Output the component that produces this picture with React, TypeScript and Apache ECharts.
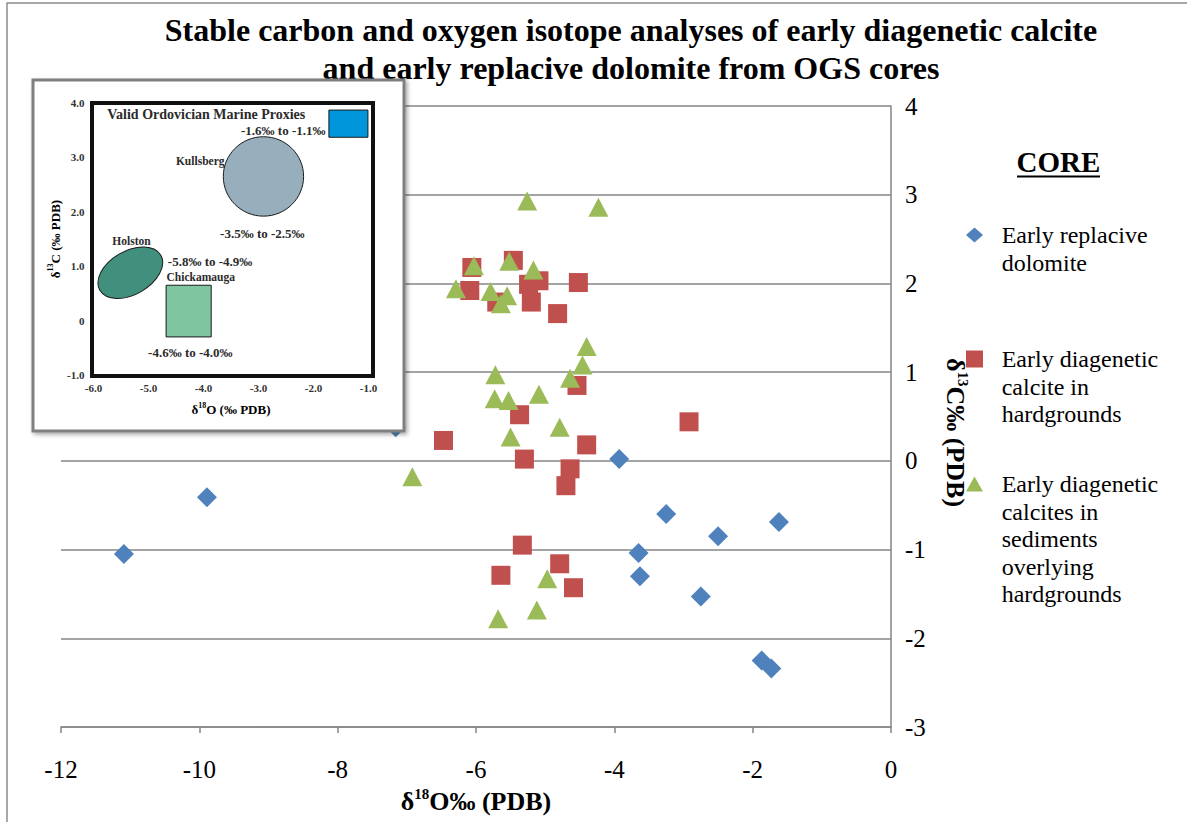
import React, { useEffect, useRef } from "react";
import * as echarts from "echarts";

const FONT = "'Liberation Serif', 'Times New Roman', Times, serif";

// ---- main chart data: [δ18O, δ13C] ----
const dolomite: [number, number][] = [
  [-11.09, -1.05], [-9.89, -0.41], [-7.16, 0.38], [-3.93, 0.02], [-3.25, -0.6],
  [-1.62, -0.69], [-2.5, -0.85], [-3.65, -1.04], [-3.63, -1.3], [-2.75, -1.53],
  [-1.87, -2.25], [-1.73, -2.34],
];
const hardgroundCalcite: [number, number][] = [
  [-6.06, 2.18], [-6.09, 1.92], [-5.46, 2.26], [-5.24, 1.99], [-5.09, 2.03],
  [-5.7, 1.79], [-5.2, 1.79], [-4.52, 2.01], [-4.82, 1.66], [-4.54, 0.85],
  [-5.37, 0.52], [-2.92, 0.44], [-6.47, 0.23], [-4.4, 0.18], [-5.3, 0.02],
  [-4.64, -0.09], [-4.7, -0.28], [-5.33, -0.95], [-4.79, -1.16], [-5.64, -1.29],
  [-4.59, -1.43],
];
const overlyingCalcite: [number, number][] = [
  [-5.26, 2.93], [-4.23, 2.86], [-6.03, 2.2], [-5.52, 2.25], [-5.17, 2.15],
  [-6.29, 1.94], [-5.79, 1.91], [-5.55, 1.86], [-5.64, 1.77], [-4.4, 1.29],
  [-4.46, 1.08], [-4.64, 0.93], [-5.72, 0.97], [-5.73, 0.7], [-5.53, 0.68],
  [-5.09, 0.75], [-4.79, 0.38], [-5.5, 0.27], [-6.92, -0.18], [-4.97, -1.33],
  [-5.12, -1.68], [-5.68, -1.78],
];

const seriesNames = [
  "Early replacive dolomite",
  "Early diagenetic calcite in hardgrounds",
  "Early diagenetic calcites in sediments overlying hardgrounds",
];
const legendLines = [
  ["Early replacive", "dolomite"],
  ["Early diagenetic", "calcite in", "hardgrounds"],
  ["Early diagenetic", "calcites in", "sediments", "overlying", "hardgrounds"],
];
const seriesColors = ["#4F81BD", "#C0504D", "#9BBB59"];
const seriesSymbols = ["diamond", "rect", "triangle"];

const titleLines = [
  "Stable carbon and oxygen isotope analyses of early diagenetic calcite",
  "and early replacive dolomite from OGS cores",
];

// main axes
const xMin = -12, xMax = 0, xStep = 2;
const yMin = -3, yMax = 4, yStep = 1;

// ---- inset (Valid Ordovician Marine Proxies) ----
const insetXMin = -6, insetXMax = -1;
const insetYMin = -1, insetYMax = 4;
const insetEllipses = [
  { name: "Kullsberg", cx: -2.91, cy: 2.65, rx: 0.73, ry: 0.73, rot: 0, color: "#97AEBD" },
  { name: "Holston", cx: -5.33, cy: 0.88, rx: 0.64, ry: 0.4, rot: 30, color: "#41907E" },
];
const insetRects = [
  { name: "Marine", x1: -1.72, y1: 3.37, x2: -1.01, y2: 3.87, color: "#0096DB" },
  { name: "Chickamauga", x1: -4.68, y1: -0.3, x2: -3.86, y2: 0.65, color: "#7DC6A0" },
];
const insetLabels = [
  { text: "Valid Ordovician Marine Proxies", x: -5.75, y: 3.78, size: 14, align: "left" },
  { text: "-1.6‰ to -1.1‰", x: -2.55, y: 3.5, size: 13, align: "center" },
  { text: "Kullsberg", x: -4.06, y: 2.94, size: 11.5, align: "center" },
  { text: "-3.5‰ to -2.5‰", x: -2.93, y: 1.61, size: 13, align: "center" },
  { text: "Holston", x: -5.31, y: 1.47, size: 11.5, align: "center" },
  { text: "-5.8‰ to -4.9‰", x: -3.88, y: 1.08, size: 13, align: "center" },
  { text: "Chickamauga", x: -4.05, y: 0.8, size: 11.5, align: "center" },
  { text: "-4.6‰ to -4.0‰", x: -4.24, y: -0.58, size: 13, align: "center" },
];

const LH = 27.5;
const legendIconCenters = [235, 359, 484];

export default function App() {
  const ref = useRef<HTMLDivElement>(null);

  useEffect(() => {
    if (!ref.current) return;
    const chart = echarts.init(ref.current, undefined, { renderer: "svg" });

    const richMain = (size: number, supSize: number) => ({
      b: { fontSize: size, fontWeight: "bold", fontFamily: FONT, color: "#000", lineHeight: size + 4 },
      s: { fontSize: supSize, fontWeight: "bold", fontFamily: FONT, color: "#000", verticalAlign: "top", lineHeight: supSize + 2 },
    });

    const shapeRender = (params: any, api: any) => {
      const i = params.dataIndex;
      if (i < insetEllipses.length) {
        const e = insetEllipses[i];
        const c = api.coord([e.cx, e.cy]);
        const rx = api.size([e.rx, 0])[0];
        const ry = api.size([0, e.ry])[1];
        return {
          type: "ellipse",
          x: c[0],
          y: c[1],
          rotation: (e.rot * Math.PI) / 180,
          shape: { cx: 0, cy: 0, rx, ry },
          style: { fill: e.color, stroke: "#1a1a1a", lineWidth: 1 },
        };
      }
      const r = insetRects[i - insetEllipses.length];
      const p1 = api.coord([r.x1, r.y2]);
      const p2 = api.coord([r.x2, r.y1]);
      return {
        type: "rect",
        shape: { x: p1[0], y: p1[1], width: p2[0] - p1[0], height: p2[1] - p1[1] },
        style: { fill: r.color, stroke: "#1a1a1a", lineWidth: 1 },
      };
    };

    const textRender = (params: any, api: any) => {
      const l = insetLabels[params.dataIndex];
      const c = api.coord([l.x, l.y]);
      return {
        type: "text",
        x: c[0],
        y: c[1],
        style: {
          text: l.text,
          fill: "#2b2b2b",
          fontSize: l.size,
          fontWeight: "bold",
          fontFamily: FONT,
          align: l.align,
          verticalAlign: "middle",
        },
      };
    };

    const option: any = {
      animation: false,
      backgroundColor: "#fff",
      title: {
        text: titleLines.join("\n"),
        left: 631,
        top: 11,
        padding: 0,
        textAlign: "center",
        textStyle: { fontFamily: FONT, fontSize: 32, fontWeight: "bold", color: "#000", lineHeight: 38 },
      },
      legend: seriesNames.map((name, i) => {
        const n = legendLines[i].length;
        const B = (2 * n - 1) * LH;
        // blank lines on top so the first text line sits level with the icon
        const blanks = new Array(n - 1).fill("");
        return {
          data: [{ name, icon: seriesSymbols[i] }],
          left: 966,
          top: legendIconCenters[i] - B / 2,
          padding: 0,
          orient: "vertical",
          itemWidth: 17,
          itemHeight: i === 1 ? 17 : 15,
          symbolKeepAspect: false,
          selectedMode: false,
          itemStyle: { opacity: 1 },
          formatter: () => [...blanks, ...legendLines[i]].join("\n"),
          textStyle: {
            fontFamily: FONT,
            fontSize: 24,
            color: "#000",
            lineHeight: LH,
            padding: [0, 0, 0, 13.7],
          },
        };
      }),
      grid: [
        { left: 61, right: 296, top: 106, bottom: 95, containLabel: false },
        { left: 93.5, top: 103, width: 275, height: 272, z: 11, show: false },
      ],
      xAxis: [
        {
          type: "value",
          gridIndex: 0,
          min: xMin,
          max: xMax,
          interval: xStep,
          position: "bottom",
          axisLine: { show: true, onZero: false, lineStyle: { color: "#868686", width: 1.5 } },
          axisTick: { show: true, inside: false, length: 6, lineStyle: { color: "#868686", width: 1.5 } },
          axisLabel: { fontFamily: FONT, fontSize: 25, color: "#000", margin: 30 },
          splitLine: { show: false },
          name: "{b|δ}{s|18}{b|O‰ (PDB)}",
          nameLocation: "middle",
          nameGap: 55,
          nameTextStyle: { rich: richMain(26, 15) },
        },
        {
          type: "value",
          gridIndex: 1,
          min: insetXMin,
          max: insetXMax,
          interval: 1,
          z: 11,
          axisLine: { show: false },
          axisTick: { show: false },
          splitLine: { show: false },
          axisLabel: {
            fontFamily: FONT, fontSize: 11, fontWeight: "bold", color: "#333", margin: 7,
            formatter: (v: number) => v.toFixed(1),
          },
          name: "{b|δ}{s|18}{b|O (‰ PDB)}",
          nameLocation: "middle",
          nameGap: 26,
          nameTextStyle: { rich: richMain(13, 8) },
        },
      ],
      yAxis: [
        {
          type: "value",
          gridIndex: 0,
          min: yMin,
          max: yMax,
          interval: yStep,
          position: "right",
          axisLine: { show: true, onZero: false, lineStyle: { color: "#868686", width: 1.5 } },
          axisTick: { show: false },
          axisLabel: { fontFamily: FONT, fontSize: 25, color: "#000", margin: 14 },
          splitLine: { show: true, lineStyle: { color: "#868686", width: 1.5 } },
          name: "{b|δ}{s|13}{b|C‰ (PDB)}",
          nameLocation: "middle",
          nameRotate: -90,
          nameGap: 49,
          nameTextStyle: { rich: richMain(26, 15), padding: [0, 0, 0, 32] },
        },
        {
          type: "value",
          gridIndex: 1,
          min: insetYMin,
          max: insetYMax,
          interval: 1,
          z: 11,
          axisLine: { show: false },
          axisTick: { show: false },
          splitLine: { show: false },
          axisLabel: {
            fontFamily: FONT, fontSize: 11, fontWeight: "bold", color: "#333", margin: 9,
            formatter: (v: number) => (v === 0 ? "0" : v.toFixed(1)),
          },
          name: "{b|δ}{s|13}{b|C (‰ PDB)}",
          nameLocation: "middle",
          nameGap: 30,
          nameTextStyle: { rich: richMain(13, 8) },
        },
      ],
      graphic: [
        {
          type: "rect",
          silent: true,
          z: 0,
          shape: { x: 7, y: 3, width: 1200, height: 840 },
          style: { fill: "none", stroke: "#8c8c8c", lineWidth: 1.5 },
        },
        {
          type: "rect",
          silent: true,
          z: 10,
          shape: { x: 33, y: 80, width: 371, height: 351 },
          style: {
            fill: "#ffffff",
            stroke: "#7f7f7f",
            lineWidth: 3,
            shadowBlur: 4,
            shadowOffsetX: 2,
            shadowOffsetY: 2,
            shadowColor: "rgba(0,0,0,0.35)",
          },
        },
        {
          type: "rect",
          silent: true,
          z: 13,
          shape: { x: 92, y: 103, width: 281, height: 273 },
          style: { fill: "none", stroke: "#111", lineWidth: 4 },
        },
        {
          type: "text",
          silent: true,
          z: 5,
          x: 1058.5,
          y: 162,
          style: {
            text: "CORE",
            fontFamily: FONT,
            fontSize: 29,
            fontWeight: "bold",
            fill: "#000",
            align: "center",
            verticalAlign: "middle",
          },
        },
        {
          type: "line",
          silent: true,
          z: 5,
          shape: { x1: 1017, y1: 176.5, x2: 1100, y2: 176.5 },
          style: { stroke: "#000", lineWidth: 2 },
        },
      ],
      series: [
        {
          name: seriesNames[0],
          type: "scatter",
          xAxisIndex: 0,
          yAxisIndex: 0,
          data: dolomite,
          symbol: seriesSymbols[0],
          symbolSize: 20,
          itemStyle: { color: seriesColors[0], opacity: 1 },
          z: 2,
        },
        {
          name: seriesNames[1],
          type: "scatter",
          xAxisIndex: 0,
          yAxisIndex: 0,
          data: hardgroundCalcite,
          symbol: seriesSymbols[1],
          symbolSize: 19,
          itemStyle: { color: seriesColors[1], opacity: 1 },
          z: 3,
        },
        {
          name: seriesNames[2],
          type: "scatter",
          xAxisIndex: 0,
          yAxisIndex: 0,
          data: overlyingCalcite,
          symbol: seriesSymbols[2],
          symbolSize: [20, 19],
          itemStyle: { color: seriesColors[2], opacity: 1 },
          z: 4,
        },
        {
          name: "inset shapes",
          type: "custom",
          xAxisIndex: 1,
          yAxisIndex: 1,
          z: 12,
          clip: false,
          silent: true,
          renderItem: shapeRender,
          data: [
            ...insetEllipses.map((e) => [e.cx, e.cy]),
            ...insetRects.map((r) => [r.x1, r.y1]),
          ],
        },
        {
          name: "inset labels",
          type: "custom",
          xAxisIndex: 1,
          yAxisIndex: 1,
          z: 12,
          clip: false,
          silent: true,
          renderItem: textRender,
          data: insetLabels.map((l) => [l.x, l.y]),
        },
      ],
    };

    chart.setOption(option);
    return () => chart.dispose();
  }, []);

  return (
    <div
      ref={ref}
      style={{ position: "absolute", left: 0, top: 0, width: 1187, height: 822, background: "#fff" }}
    />
  );
}
